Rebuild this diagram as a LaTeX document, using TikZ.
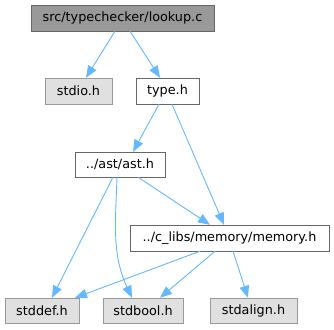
\documentclass[tikz,border=0pt]{standalone}
\usepackage{fontspec}
\setmainfont{DejaVu Sans}
\usetikzlibrary{arrows.meta}
\definecolor{edgeblue}{HTML}{63B8FF}
\definecolor{boxgray}{HTML}{999999}
\definecolor{sysgray}{HTML}{E0E0E0}
\definecolor{linegray}{HTML}{666666}

\begin{document}
\begin{tikzpicture}[x=1pt, y=-1pt, thin,
every node/.style = {shape=rectangle, draw=linegray, fill=white, inner sep=0pt,
    minimum height=26pt, font=\fontsize{12.8pt}{15pt}\selectfont},
sysfile/.style = {draw=boxgray, fill=sysgray, minimum height=25pt},
dep/.style = {draw=edgeblue, line width=0.9pt, -{Triangle[length=12pt, width=9.5pt]}}]
\useasboundingbox (0,0) rectangle (334,329);
% files
\node [fill=boxgray, minimum width=183pt] (lookup) at (122.5,18) {src/typechecker/lookup.c};
\node [sysfile, minimum width=67pt, minimum height=26pt] (stdio) at (78.5,91) {stdio.h};
\node [minimum width=63pt] (type) at (167.5,91) {type.h};
\node [minimum width=90pt, minimum height=25pt] (ast) at (120,164.5) {../ast/ast.h};
\node [minimum width=199pt] (memory) at (229.5,238) {../c\_libs/memory/memory.h};
\node [sysfile, minimum width=74pt] (stddef) at (42,310.5) {stddef.h};
\node [sysfile, minimum width=80pt] (stdbool) at (143,310.5) {stdbool.h};
\node [sysfile, minimum width=87pt] (stdalign) at (253.5,310.5) {stdalign.h};
% includes
\draw [dep] ([xshift=-7.5]lookup.south) -- ([xshift=7.5]stdio.north);
\draw [dep] ([xshift=7.5]lookup.south) -- ([xshift=-7.5]type.north);
\draw [dep] ([xshift=-8.5]type.south) -- ([xshift=13]ast.north);
\draw [dep] ([xshift=4.5]type.south) -- ([xshift=-5.5]memory.north);
\draw [dep] ([xshift=-7]ast.south) -- ([xshift=10]stddef.north);
\draw [dep] ([xshift=-3]ast.south) to[out=-92, in=115] ([xshift=-11]stdbool.north);
\draw [dep] ([xshift=18]ast.south) -- ([xshift=-19.5]memory.north);
\draw [dep] ([xshift=-29.5]memory.south) -- ([xshift=33]stddef.north);
\draw [dep] ([xshift=-14.5]memory.south) -- ([xshift=17]stdbool.north);
\draw [dep] ([xshift=3.5]memory.south) -- ([xshift=-5.5]stdalign.north);
\end{tikzpicture}
\end{document}
